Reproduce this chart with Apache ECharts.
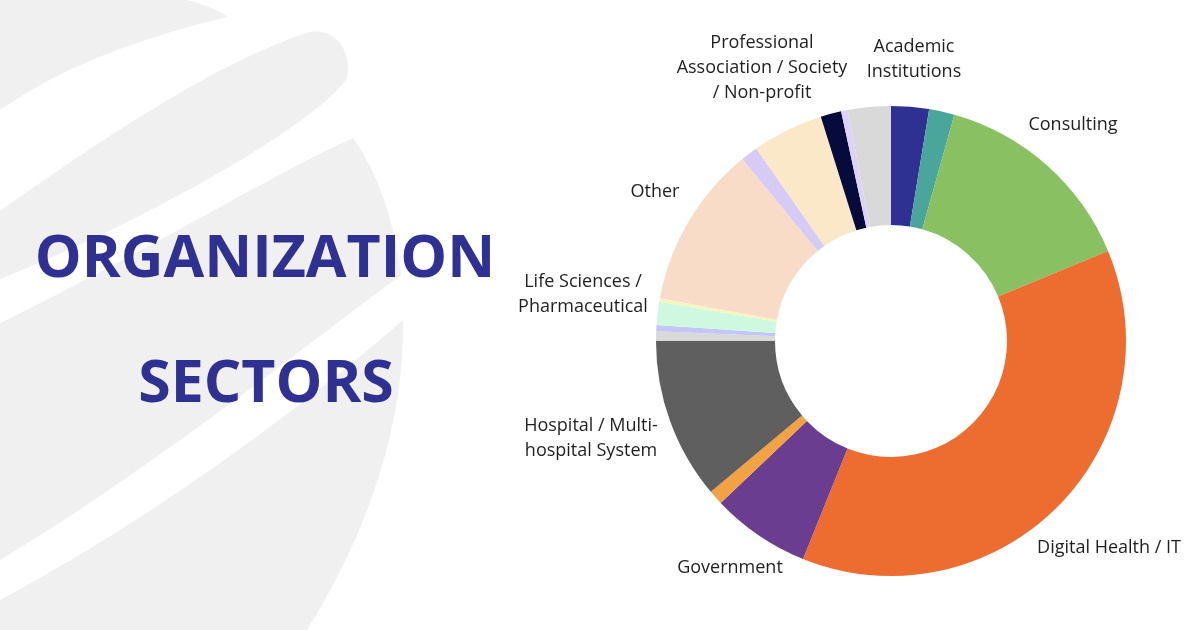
<!DOCTYPE html>
<html>
<head>
<meta charset="utf-8">
<script src="https://cdn.jsdelivr.net/npm/echarts@6/dist/echarts.min.js"></script>
<style>
  html, body { margin: 0; padding: 0; background: #fff; }
  #main { width: 1200px; height: 630px; }
</style>
</head>
<body>
<div id="main"></div>
<script>
var sectorNames = [
    'Academic Institutions', 'Sector 2', 'Consulting', 'Digital Health / IT',
    'Government', 'Sector 6', 'Hospital / Multi-hospital System', 'Sector 8',
    'Sector 9', 'Life Sciences / Pharmaceutical', 'Sector 11', 'Other',
    'Sector 13', 'Professional Association / Society / Non-profit', 'Sector 15',
    'Sector 16', 'Sector 17'
];
var sectorValues = [2.6, 1.75, 14.4, 37.4, 6.8, 1.0, 11.1, 0.67, 0.42, 1.58, 0.25, 11.2, 1.17, 4.9, 1.42, 0.47, 2.94];
var sectorColors = [
    '#2e3192', '#4aa59b', '#89c061', '#ed6d31', '#6b3d91', '#f2a242', '#5f5f5f', '#d9d9d9',
    '#c4c7f6', '#cff8e1', '#f4f6c2', '#f8dcc7', '#d6cbf5', '#fbe8c9', '#070b3b', '#ddd2f8', '#d9d9d9'
];
// label text as wrapped in the picture (only these slices are labelled)
var labelText = {
    'Academic Institutions': 'Academic\nInstitutions',
    'Consulting': 'Consulting',
    'Digital Health / IT': 'Digital Health / IT',
    'Government': 'Government',
    'Hospital / Multi-hospital System': 'Hospital / Multi-\nhospital System',
    'Life Sciences / Pharmaceutical': 'Life Sciences /\nPharmaceutical',
    'Other': 'Other',
    'Professional Association / Society / Non-profit': 'Professional\nAssociation / Society\n/ Non-profit'
};
// where each label sits (centre of text block)
var labelSpot = {
    'Academic Institutions': [914, 59],
    'Consulting': [1073, 125],
    'Digital Health / IT': [1109, 548],
    'Government': [730, 568],
    'Hospital / Multi-hospital System': [591, 438],
    'Life Sciences / Pharmaceutical': [583, 294],
    'Other': [655, 192],
    'Professional Association / Society / Non-profit': [762, 68]
};

// background globe swooshes
var bgShapes = {
    bgA: 'M0,0 L187,0 Q212,6 228,17 Q86,50 0,110 Z',
    bgB: 'M0,211 C100,140 220,60 310,32 C335,28 352,50 347,78 C320,120 160,215 0,279 Z',
    bgC: 'M0,323 C150,250 280,170 353,138 Q390,190 401,275 C300,350 150,470 0,560 Z',
    bgD: 'M0,600 C150,520 300,410 403,320 C405,420 370,530 307,630 L0,630 Z'
};
var bgElements = [];
Object.keys(bgShapes).forEach(function (k) {
    echarts.graphic.registerShape(k, echarts.graphic.extendPath(bgShapes[k], {}));
    bgElements.push({ type: k, silent: true, shape: {}, style: { fill: '#f0f0f0' } });
});

var chart = echarts.init(document.getElementById('main'));

var pieData = sectorNames.map(function (n, i) {
    return {
        name: n,
        value: sectorValues[i],
        itemStyle: { color: sectorColors[i] },
        label: { show: !!labelText[n] }
    };
});

var option = {
    animation: false,
    backgroundColor: '#fff',
    graphic: bgElements.concat([
        {
            type: 'text', silent: true,
            style: { text: 'ORGANIZATION', x: 265, y: 260, textAlign: 'center', textVerticalAlign: 'middle',
                font: 'bold 59px "Open Sans"', fill: '#2e3192' }
        },
        {
            type: 'text', silent: true,
            style: { text: 'SECTORS', x: 266, y: 385, textAlign: 'center', textVerticalAlign: 'middle',
                font: 'bold 59px "Open Sans"', fill: '#2e3192' }
        }
    ]),
    series: [
        {
            name: 'Organization Sector',
            type: 'pie',
            center: [891, 341],
            radius: [116, 235],
            startAngle: 90,
            clockwise: true,
            avoidLabelOverlap: false,
            itemStyle: { borderWidth: 0 },
            label: {
                position: 'outside',
                fontFamily: 'Open Sans',
                fontSize: 18,
                lineHeight: 25,
                color: '#1f1f1f',
                align: 'center',
                formatter: function (p) { return labelText[p.name] || ''; }
            },
            labelLine: { show: false },
            labelLayout: function (p) {
                var spot = labelSpot[sectorNames[p.dataIndex]];
                if (!spot) return {};
                return { x: spot[0], y: spot[1], align: 'center', verticalAlign: 'middle' };
            },
            data: pieData
        }
    ]
};
chart.setOption(option);
</script>
</body>
</html>
